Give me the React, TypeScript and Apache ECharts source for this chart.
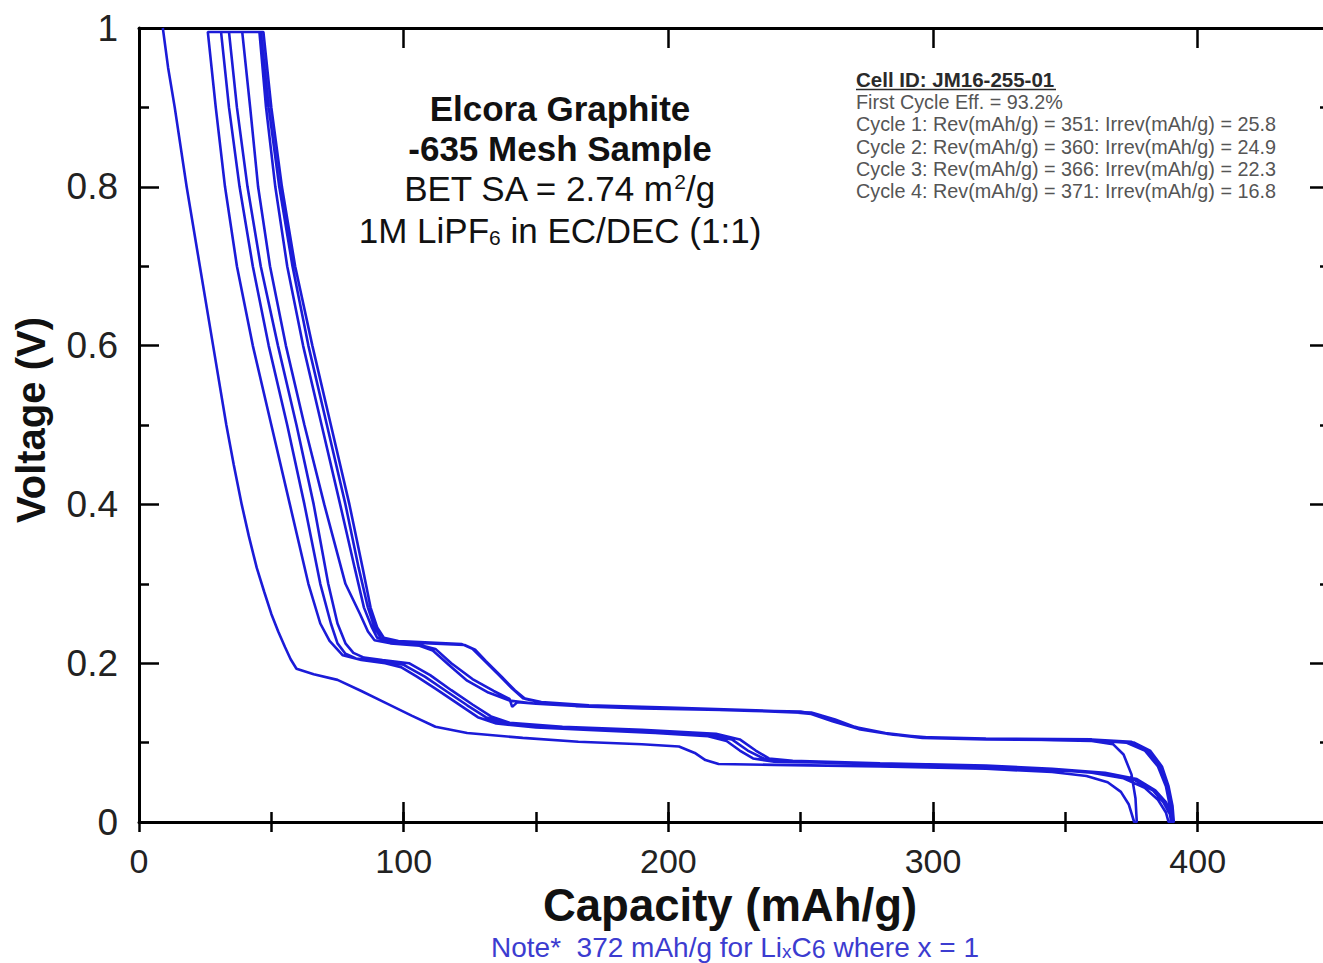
import React, { useEffect, useRef } from "react";
import * as echarts from "echarts";

// ---- Data (capacity mAh/g, voltage V) ----
const discharge1: [number, number][] = [
  [9, 1.0], [11, 0.95], [13.5, 0.9], [18, 0.8], [23, 0.7], [28, 0.6], [33, 0.5], [35.8, 0.45],
  [38.8, 0.4], [41.5, 0.36], [44.5, 0.32], [47.3, 0.29], [50, 0.262], [52.6, 0.24],
  [55.2, 0.22], [57.3, 0.205], [59.5, 0.193], [66, 0.186], [75, 0.179],
  [84, 0.165], [92, 0.152], [103, 0.134], [112, 0.12], [124, 0.112], [145, 0.106],
  [166, 0.101], [190, 0.098], [204, 0.095], [210, 0.087], [214, 0.078], [219, 0.073],
  [240, 0.072], [280, 0.07], [320, 0.067], [345, 0.063], [358, 0.058], [366, 0.05],
  [371, 0.038], [374, 0.022], [376, 0.0],
];
const charge1: [number, number][] = [
  [377, 0.0], [376.5, 0.03], [375, 0.06], [372, 0.085], [368, 0.098], [360, 0.102],
  [330, 0.104], [300, 0.106], [285, 0.11], [272, 0.117], [262, 0.127], [254, 0.136],
  [245, 0.139], [220, 0.141], [190, 0.143], [165, 0.146], [150, 0.149], [140, 0.153],
  [132, 0.163], [124, 0.178], [117, 0.198], [111, 0.216], [106, 0.222], [95, 0.225],
  [89, 0.229], [86.5, 0.24], [83.5, 0.262], [78, 0.3], [70, 0.4], [62.5, 0.5], [55.5, 0.6],
  [49.5, 0.7], [45, 0.8], [42, 0.9], [39, 0.995],
];
const discharge2: [number, number][] = [
  [26, 0.995], [29, 0.9], [32.5, 0.8], [37, 0.7], [43, 0.6], [50, 0.5],
  [57, 0.4], [64, 0.3], [68.5, 0.25], [72, 0.228], [77, 0.21], [84, 0.204], [93, 0.2],
  [99, 0.195], [105, 0.183], [112, 0.168], [120, 0.15], [128, 0.132], [135, 0.124],
  [150, 0.119], [170, 0.116], [195, 0.112], [215, 0.108], [222, 0.102], [227, 0.09],
  [232, 0.08], [240, 0.076], [270, 0.074], [310, 0.071], [340, 0.067], [360, 0.062],
  [372, 0.055], [380, 0.043], [385, 0.028], [388, 0.012], [389, 0.0],
];
const charge2: [number, number][] = [
  [390, 0.0], [389.5, 0.02], [388, 0.045], [385, 0.07], [380, 0.09], [373, 0.1],
  [360, 0.103], [330, 0.104], [300, 0.106], [288, 0.109], [276, 0.115], [266, 0.124],
  [258, 0.134], [250, 0.139], [225, 0.141], [195, 0.143], [170, 0.146], [150, 0.149],
  [143, 0.151], [141, 0.145], [140, 0.155], [134, 0.165], [126, 0.18], [118, 0.2],
  [112, 0.218], [105, 0.224], [95, 0.227], [90, 0.232], [88, 0.245], [85, 0.27],
  [81.5, 0.32], [76, 0.4], [69, 0.5], [62, 0.6], [56, 0.7], [51.5, 0.8],
  [48, 0.9], [45.5, 0.995],
];
const discharge3: [number, number][] = [
  [31, 0.995], [34, 0.9], [38, 0.8], [43, 0.7], [49, 0.6], [56, 0.5],
  [62.5, 0.4], [68.5, 0.3], [72.5, 0.25], [75, 0.225], [78, 0.212], [82, 0.206], [90, 0.203],
  [100, 0.198], [108, 0.183], [116, 0.165], [124, 0.147], [131, 0.132], [138, 0.124],
  [160, 0.119], [190, 0.115], [215, 0.11], [224, 0.104], [230, 0.09], [236, 0.08],
  [245, 0.076], [280, 0.073], [320, 0.07], [345, 0.066], [365, 0.061], [376, 0.053],
  [383, 0.04], [387, 0.025], [389.5, 0.01], [390, 0.0],
];
const charge3: [number, number][] = [
  [390.5, 0.0], [390, 0.02], [388.5, 0.045], [386, 0.07], [381, 0.09], [375, 0.101],
  [360, 0.104], [320, 0.105], [295, 0.107], [282, 0.112], [270, 0.12], [262, 0.13],
  [254, 0.138], [230, 0.141], [200, 0.144], [170, 0.147], [152, 0.151], [145, 0.156],
  [141, 0.168], [136, 0.185], [130, 0.205], [126, 0.218], [122, 0.224], [110, 0.226],
  [98, 0.228], [92.5, 0.232], [90, 0.245], [87.5, 0.27], [84.5, 0.32], [79.5, 0.4],
  [72.5, 0.5], [65.5, 0.6], [59, 0.7], [54, 0.8], [50, 0.9], [47, 0.995],
];
const discharge4: [number, number][] = [
  [34, 0.995], [37, 0.9], [41, 0.8], [46, 0.7], [52.5, 0.6], [59.5, 0.5],
  [66, 0.4], [71.5, 0.3], [75, 0.25], [78, 0.225], [81, 0.213], [85, 0.207], [92, 0.204],
  [102, 0.2], [110, 0.185], [118, 0.166], [126, 0.148], [133, 0.133], [140, 0.125],
  [160, 0.12], [190, 0.116], [218, 0.111], [227, 0.104], [233, 0.09], [238, 0.08],
  [247, 0.077], [280, 0.074], [320, 0.071], [345, 0.067], [365, 0.062], [377, 0.054],
  [384, 0.04], [388, 0.025], [390, 0.01], [390.5, 0.0],
];
const charge4: [number, number][] = [
  [391, 0.0], [390.5, 0.02], [389, 0.045], [386.5, 0.07], [382, 0.09], [376, 0.1],
  [360, 0.103], [320, 0.104], [296, 0.106], [283, 0.111], [271, 0.119], [263, 0.129],
  [255, 0.137], [232, 0.14], [200, 0.143], [172, 0.146], [153, 0.15], [146, 0.155],
  [142, 0.166], [137, 0.183], [131, 0.203], [127, 0.217], [123, 0.223], [110, 0.225],
  [97, 0.227], [91.5, 0.231], [89, 0.245], [86.5, 0.27], [83, 0.32], [78, 0.4],
  [71, 0.5], [64, 0.6], [58, 0.7], [53, 0.8], [49, 0.9], [46, 0.995],
];

const xMajorTicks = { min: 0, max: 450, interval: 100 };
const xMinorTicks = { min: 0, max: 450, interval: 50 };
const yTicks = { min: 0, max: 1, interval: 0.2 };

const titleLines = ["Elcora Graphite", "-635 Mesh Sample"];
const infoHeader = "Cell ID: JM16-255-01";
const infoLines = [
  "First Cycle Eff. = 93.2%",
  "Cycle 1: Rev(mAh/g) = 351: Irrev(mAh/g) = 25.8",
  "Cycle 2: Rev(mAh/g) = 360: Irrev(mAh/g) = 24.9",
  "Cycle 3: Rev(mAh/g) = 366: Irrev(mAh/g) = 22.3",
  "Cycle 4: Rev(mAh/g) = 371: Irrev(mAh/g) = 16.8",
];

const FONT = '"Liberation Sans", Arial, Helvetica, sans-serif';
const LINE_COLOR = "#1b1bd8";

export default function App() {
  const ref = useRef<HTMLDivElement>(null);

  useEffect(() => {
    if (!ref.current) return;
    const chart = echarts.init(ref.current, undefined, { renderer: "svg" });

    const allData = [
      ...discharge1, ...charge1, ...discharge2, ...charge2,
      ...discharge3, ...charge3, ...discharge4, ...charge4,
    ];

    const axisLine = { show: true, onZero: false, lineStyle: { color: "#000", width: 3 } };
    const majorTick = { show: true, inside: true, length: 20, lineStyle: { color: "#000", width: 2.5 } };
    const minorTickX = { show: true, inside: true, length: 10, lineStyle: { color: "#000", width: 2.5 } };

    const option: any = {
      animation: false,
      backgroundColor: "#fff",
      grid: { left: 139, top: 28, width: 1191, height: 794, containLabel: false, outerBoundsMode: "none" },
      xAxis: [
        {
          type: "value", position: "bottom", ...xMajorTicks,
          axisLine, axisTick: majorTick, splitLine: { show: false },
          axisLabel: { show: true, fontSize: 34, margin: 22, color: "#222", fontFamily: FONT, showMaxLabel: false },
        },
        {
          type: "value", position: "top", ...xMajorTicks,
          axisLine, axisTick: majorTick, splitLine: { show: false }, axisLabel: { show: false },
        },
        {
          type: "value", position: "bottom", ...xMinorTicks,
          axisLine: { show: false }, axisTick: minorTickX, splitLine: { show: false }, axisLabel: { show: false },
        },
        {
          type: "value", position: "top", ...xMinorTicks,
          axisLine: { show: false }, axisTick: minorTickX, splitLine: { show: false }, axisLabel: { show: false },
        },
      ],
      yAxis: [
        {
          type: "value", position: "left", ...yTicks,
          axisLine, axisTick: majorTick,
          minorTick: { show: true, splitNumber: 2, length: 10, lineStyle: { color: "#000", width: 2.5 } },
          splitLine: { show: false }, minorSplitLine: { show: false },
          axisLabel: { show: true, fontSize: 37, margin: 21, color: "#222", fontFamily: FONT },
        },
        {
          type: "value", position: "right", ...yTicks,
          axisLine, axisTick: majorTick,
          minorTick: { show: true, splitNumber: 2, length: 10, lineStyle: { color: "#000", width: 2.5 } },
          splitLine: { show: false }, minorSplitLine: { show: false }, axisLabel: { show: false },
        },
      ],
      series: [
        {
          type: "line", xAxisIndex: 0, yAxisIndex: 0, data: allData, showSymbol: false, symbol: "none",
          lineStyle: { color: LINE_COLOR, width: 2.6 }, smooth: false, clip: true, z: 1,
        },
      ],
      graphic: [
        ...titleLines.map((t, i) => ({
          type: "text", x: 560, y: 108 + i * 40, z: 10,
          style: { text: t, fontSize: 35, fontWeight: "bold", fontFamily: FONT, fill: "#111", align: "center", verticalAlign: "middle" },
        })),
        {
          type: "text", x: 559, y: 188, z: 10,
          style: {
            text: "BET SA = 2.74 m{sup|2}/g", fontSize: 35, fontFamily: FONT, fill: "#111", align: "center", verticalAlign: "middle",
            rich: { sup: { fontSize: 21, fontFamily: FONT, fill: "#111", verticalAlign: "top", lineHeight: 20 } },
          },
        },
        {
          type: "text", x: 560, y: 230, z: 10,
          style: {
            text: "1M LiPF{sub|6} in EC/DEC (1:1)", fontSize: 35, fontFamily: FONT, fill: "#111", align: "center", verticalAlign: "middle",
            rich: { sub: { fontSize: 21, fontFamily: FONT, fill: "#111", verticalAlign: "bottom", lineHeight: 8 } },
          },
        },
        {
          type: "text", x: 856, y: 79, z: 10,
          style: { text: infoHeader, fontSize: 20.5, fontWeight: "bold", fontFamily: FONT, fill: "#2a2a2a", align: "left", verticalAlign: "middle" },
        },
        { type: "line", z: 10, shape: { x1: 856, y1: 89.5, x2: 1056, y2: 89.5 }, style: { stroke: "#2a2a2a", lineWidth: 1.6 } },
        ...infoLines.map((t, i) => ({
          type: "text", x: 856, y: 102 + i * 22.3, z: 10,
          style: { text: t, fontSize: 19.8, fontFamily: FONT, fill: "#555", align: "left", verticalAlign: "middle" },
        })),
        {
          type: "text", x: 730, y: 905, z: 10,
          style: { text: "Capacity (mAh/g)", fontSize: 45.5, fontWeight: "bold", fontFamily: FONT, fill: "#111", align: "center", verticalAlign: "middle" },
        },
        {
          type: "text", x: 31, y: 420, rotation: Math.PI / 2, z: 10,
          style: { text: "Voltage (V)", fontSize: 40, fontWeight: "bold", fontFamily: FONT, fill: "#111", align: "center", verticalAlign: "middle" },
        },
        {
          type: "text", x: 735, y: 947, z: 10,
          style: {
            text: "Note*  372 mAh/g for Li{sx|x}C{s6|6} where x = 1", fontSize: 28, fontFamily: FONT, fill: "#3c3cd0",
            align: "center", verticalAlign: "middle",
            rich: {
              sx: { fontSize: 19, fontFamily: FONT, fill: "#3c3cd0", verticalAlign: "bottom", lineHeight: 8 },
              s6: { fontSize: 25, fontFamily: FONT, fill: "#3c3cd0", verticalAlign: "bottom", lineHeight: 14 },
            },
          },
        },
      ],
    };

    chart.setOption(option);
    return () => chart.dispose();
  }, []);

  return (
    <div
      ref={ref}
      style={{ position: "fixed", left: 0, top: 0, width: 1323, height: 963, background: "#fff" }}
    />
  );
}
